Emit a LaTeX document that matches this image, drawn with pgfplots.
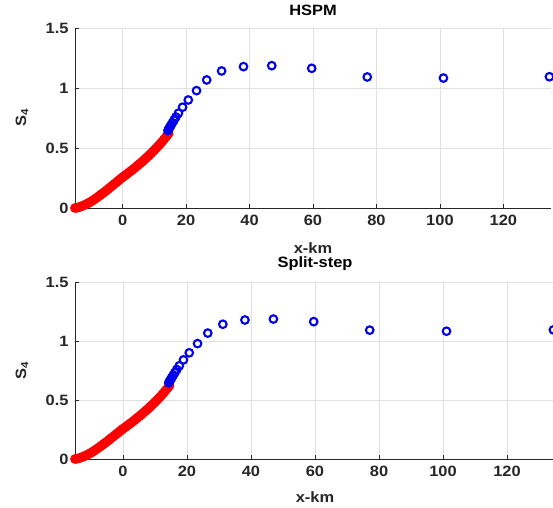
\documentclass[border=0pt]{standalone}
\usepackage{fontspec}
\setmainfont[FakeStretch=1.1]{Liberation Sans}
\usepackage{pgfplots}
\usepackage{pgfplotstable}
\pgfplotsset{compat=1.18}
\definecolor{axc}{RGB}{38,38,38}
\definecolor{gridc}{RGB}{225,225,225}
\definecolor{mred}{RGB}{255,0,0}
\definecolor{mblue}{RGB}{0,0,235}

\pgfplotstableread{
x y
-15 0
-14.5 0.002
-14 0.005
-13.5 0.009
-13 0.014
-12.5 0.019
-12 0.025
-11.5 0.031
-11 0.038
-10.5 0.045
-10 0.053
-9.5 0.061
-9 0.070
-8.5 0.079
-8 0.088
-7.5 0.098
-7 0.108
-6.5 0.118
-6 0.128
-5.5 0.138
-5 0.149
-4.5 0.159
-4 0.170
-3.5 0.181
-3 0.191
-2.5 0.202
-2 0.213
-1.5 0.224
-1 0.235
-0.5 0.246
0 0.256
0.5 0.266
1 0.276
1.5 0.286
2 0.296
2.5 0.306
3 0.316
3.5 0.327
4 0.338
4.5 0.349
5 0.360
5.5 0.371
6 0.382
6.5 0.394
7 0.406
7.5 0.418
8 0.430
8.5 0.443
9 0.456
9.5 0.469
10 0.482
10.5 0.496
11 0.510
11.5 0.524
12 0.539
12.5 0.554
13 0.570
13.5 0.586
14 0.603
14.5 0.620
}\reddata

\pgfplotstableread{
x y
14.3 0.645
14.5 0.655
14.7 0.665
15.0 0.678
15.3 0.692
15.7 0.710
16.2 0.732
16.8 0.758
17.6 0.790
18.9 0.840
20.7 0.900
23.3 0.978
26.5 1.067
31.2 1.142
38.1 1.178
47.0 1.186
59.6 1.164
77.1 1.092
101.1 1.083
134.5 1.094
}\bluedata

\newcommand{\lblfont}{\fontsize{15}{17}\selectfont\bfseries}
\pgfplotsset{
  myax/.style={
    scale only axis,
    xmin=-15, xmax=135, ymin=0, ymax=1.5,
    xtick={0,20,...,120}, ytick={0,0.5,1,1.5},
    axis x line*=bottom, axis y line*=left,
    grid=major, grid style={gridc, line width=0.6bp},
    tick align=inside, major tick length=4bp,
    axis line style={axc, line width=0.8bp},
    tick style={axc, line width=0.8bp},
    /pgf/number format/assume math mode=true,
    ticklabel style={font=\lblfont, text=axc},
    xticklabel style={yshift=-4bp},
    yticklabel style={xshift=-3bp},
    title style={font=\lblfont, text=black, at={(axis description cs:0.5,1)}, anchor=center, yshift=12bp},
    xlabel={x-km},
    ylabel={S\textsubscript{4}},
    every axis x label/.style={font=\lblfont, text=axc, at={(axis description cs:0.5,0)}, anchor=center, yshift=-40bp},
    every axis y label/.style={font=\lblfont, text=axc, at={(axis description cs:0,0.5)}, anchor=center, rotate=90, yshift=53bp},
  },
  redm/.style={only marks, mark=o, mark size=3.8bp, mred, mark options={line width=2.1bp, draw=mred}},
  bluem/.style={only marks, mark=o, mark size=3.8bp, mblue, mark options={line width=2.1bp, draw=mblue}},
}

\begin{document}
\begin{tikzpicture}
\path[use as bounding box] (0,0) rectangle (553bp,508bp);
\begin{axis}[myax, width=476bp, height=180bp, at={(75bp,300bp)}, anchor=south west, title={HSPM}]
\addplot[redm] table[x=x,y=y] {\reddata};
\addplot[bluem] table[x=x,y=y] {\bluedata};
\end{axis}
\begin{axis}[myax, width=480bp, height=177bp, at={(75bp,49bp)}, anchor=south west, title={Split-step}, every axis x label/.style={font=\lblfont, text=axc, at={(axis description cs:0.5,0)}, anchor=center, yshift=-38bp}]
\addplot[redm] table[x=x,y=y] {\reddata};
\addplot[bluem] table[x=x,y=y] {\bluedata};
\end{axis}
\end{tikzpicture}
\end{document}
